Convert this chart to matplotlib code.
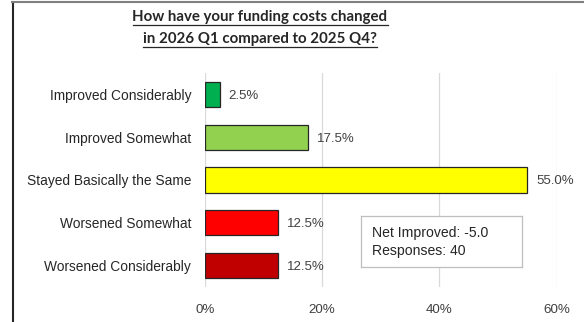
import matplotlib
matplotlib.use("Agg")
import matplotlib.pyplot as plt
from matplotlib.lines import Line2D
from matplotlib.ticker import FuncFormatter

categories = ["Improved Considerably", "Improved Somewhat", "Stayed Basically the Same",
              "Worsened Somewhat", "Worsened Considerably"]
shares = [2.5, 17.5, 55.0, 12.5, 12.5]
bar_colors = ["#00B050", "#92D050", "#FFFF00", "#FF0000", "#C00000"]
x_ticks = [0, 20, 40, 60]
title_lines = ["How have your funding costs changed", "in 2026 Q1 compared to 2025 Q4?"]
net_improved = -5.0
responses = 40

plt.rcParams["font.family"] = ["Liberation Sans", "DejaVu Sans"]

W, H = 584, 322
fig = plt.figure(figsize=(W / 100, H / 100), dpi=100)
fig.patch.set_facecolor("white")

ax = fig.add_axes([205 / W, 1 - 287 / H, (556.7 - 205) / W, (287 - 73) / H])
y = list(range(len(categories)))
ax.barh(y, shares, height=0.59, color=bar_colors, edgecolor="#262626", linewidth=0.9, zorder=3)
ax.set_ylim(len(categories) - 0.5, -0.5)
ax.set_xlim(0, 60)
ax.set_yticks(y)
ax.set_yticklabels(categories, fontsize=9.9, color="#262626")
ax.set_xticks(x_ticks)
ax.xaxis.set_major_formatter(FuncFormatter(lambda v, p: f"{v:.0f}%"))
ax.tick_params(axis="x", length=0, labelsize=9.6, labelcolor="#404040", pad=12)
ax.tick_params(axis="y", length=0, pad=10)
ax.grid(axis="x", color="#D9D9D9", linewidth=0.9, zorder=0)
for s in ax.spines.values():
    s.set_visible(False)

for yi, v in zip(y, shares):
    ax.annotate(f"{v:.1f}%", xy=(v, yi), xytext=(6.5, -1), textcoords="offset points",
                ha="left", va="center", fontsize=9.5, color="#404040")

# Summary box
box_ax = fig.add_axes([361 / W, 1 - 266.5 / H, (522 - 361) / W, (266.5 - 216) / H])
box_ax.set_xticks([])
box_ax.set_yticks([])
for s in box_ax.spines.values():
    s.set_color("#BFBFBF")
    s.set_linewidth(0.9)
box_ax.text(11 / 161, 0.67, f"Net Improved: {net_improved:.1f}", fontsize=10.1,
            color="#262626", va="center", ha="left", transform=box_ax.transAxes)
box_ax.text(11 / 161, 0.30, f"Responses: {responses}", fontsize=10.1,
            color="#262626", va="center", ha="left", transform=box_ax.transAxes)

# Underlined two-line title
title_y = [17, 39]
titles = []
for line, ty in zip(title_lines, title_y):
    t = fig.text(260 / W, 1 - ty / H, line, ha="center", va="center", fontsize=10.8,
                 fontweight="bold", color="#262626", family=["Lato", "DejaVu Sans"])
    titles.append(t)
fig.canvas.draw()
renderer = fig.canvas.get_renderer()
for t in titles:
    bb = t.get_window_extent(renderer)
    uy = (bb.y0 - 0.5) / H
    fig.add_artist(Line2D([bb.x0 / W, bb.x1 / W], [uy, uy], transform=fig.transFigure,
                          color="#262626", linewidth=0.9))

# Frame edges on left and top
fig.add_artist(Line2D([12.5 / W, 12.5 / W], [0, 1 - 2 / H], transform=fig.transFigure,
                      color="#262626", linewidth=1.5))
fig.add_artist(Line2D([12 / W, 1], [1 - 1.5 / H, 1 - 1.5 / H], transform=fig.transFigure,
                      color="#808080", linewidth=1.5))

fig.savefig("out.png", dpi=100, facecolor="white")
